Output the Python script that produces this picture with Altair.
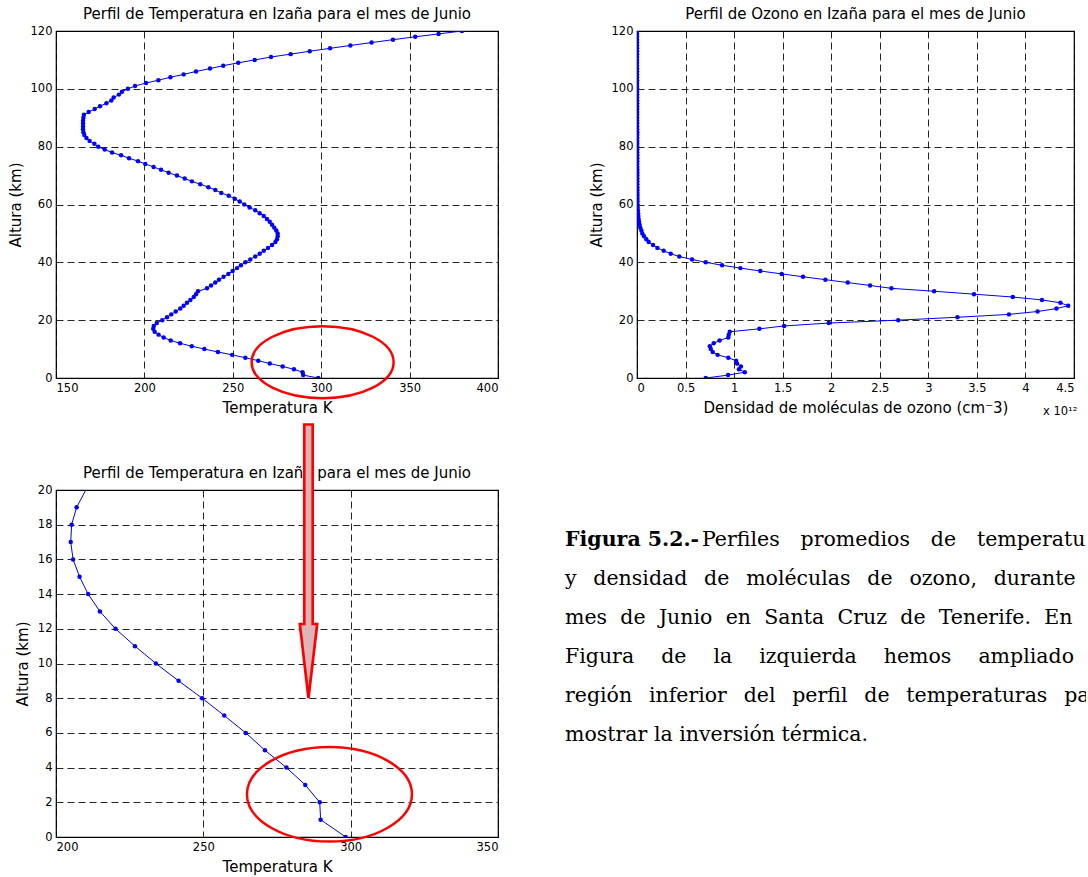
import altair as alt
import pandas as pd

# ---------------- data ----------------
altitude_km = list(range(0, 121))

temperature_k = [
    298.3, 289.8, 289.5, 284.6, 278.2, 270.9, 264.4, 257.1, 249.6, 241.6,
    233.9, 226.8, 220.2, 214.9, 210.9, 208.0, 205.8, 205.0, 205.3, 207.0,
    210.1, 212.8, 215.2, 217.7, 220.3, 222.2, 224.1, 226.0, 227.9, 229.2,
    230.3, 235.4, 237.7, 240.1, 242.2, 244.8, 247.5, 249.9, 252.4, 254.6,
    257.1, 259.9, 262.7, 265.2, 267.5, 269.9, 272.2, 274.1, 275.0, 275.4,
    275.4, 274.6, 273.5, 272.2, 270.9, 269.3, 267.5, 265.2, 262.7, 259.5,
    256.5, 253.9, 251.1, 247.7, 243.5, 240.1, 236.2, 231.6, 226.9, 222.8,
    218.4, 213.7, 209.4, 205.2, 200.5, 196.4, 191.3, 186.8, 181.7, 177.5,
    173.9, 171.7, 169.0, 167.2, 166.0, 165.5, 165.3, 165.3, 165.3, 165.3,
    165.5, 165.8, 168.5, 171.9, 174.9, 178.5, 181.3, 182.6, 185.6, 187.3,
    190.7, 194.7, 200.9, 207.9, 214.7, 222.2, 229.2, 237.1, 244.6, 253.1,
    262.4, 271.6, 282.7, 293.5, 305.0, 316.5, 328.5, 340.6, 353.2, 366.4,
    379.6,
]

ozone_e12 = [
    0.708, 0.938, 1.110, 1.050, 1.070, 1.030, 1.020, 0.940, 0.830, 0.780,
    0.760, 0.750, 0.790, 0.850, 0.940, 0.945, 0.955, 1.260, 1.515, 1.975,
    2.690, 3.300, 3.830, 4.125, 4.320, 4.440, 4.360, 4.170, 3.870, 3.470,
    3.060, 2.620, 2.400, 2.170, 1.940, 1.710, 1.490, 1.270, 1.065, 0.876,
    0.708, 0.567, 0.436, 0.347, 0.275, 0.210, 0.165, 0.120, 0.096, 0.072,
    0.055, 0.045, 0.034, 0.027, 0.021, 0.017, 0.014, 0.011, 0.009, 0.007,
    0.006, 0.005, 0.005, 0.005, 0.005, 0.005, 0.004, 0.004, 0.004, 0.004,
    0.004, 0.004, 0.004, 0.003, 0.003, 0.003, 0.003, 0.003, 0.003, 0.003,
    0.003, 0.003, 0.003, 0.003, 0.003, 0.003, 0.002, 0.002, 0.002, 0.002,
    0.002, 0.002, 0.002, 0.002, 0.002, 0.002, 0.002, 0.002, 0.002, 0.002,
    0.002, 0.001, 0.001, 0.001, 0.001, 0.001, 0.001, 0.001, 0.001, 0.001,
    0.001, 0.001, 0.001, 0.001, 0.001, 0.001, 0.001, 0.001, 0.001, 0.001,
    0.001,
]

temp_x_ticks = [150, 200, 250, 300, 350, 400]
alt_ticks_full = [0, 20, 40, 60, 80, 100, 120]
ozone_x_ticks = [0, 0.5, 1, 1.5, 2, 2.5, 3, 3.5, 4, 4.5]
zoom_x_ticks = [200, 250, 300, 350]
zoom_y_ticks = [0, 2, 4, 6, 8, 10, 12, 14, 16, 18, 20]

title_temp = "Perfil de Temperatura en Izaña para el mes de Junio"
title_ozone = "Perfil de Ozono en Izaña para el mes de Junio"
xlabel_temp = "Temperatura K"
xlabel_ozone = "Densidad de moléculas de ozono (cm⁻3)"
ylabel = "Altura (km)"
ozone_multiplier = "x 10¹²"

caption_bold = "Figura 5.2.-"
caption_first_rest = "Perfiles promedios de temperatura"
caption_lines = [
    "y densidad de moléculas de ozono, durante el",
    "mes de Junio en Santa Cruz de Tenerife. En la",
    "Figura de la izquierda hemos ampliado la",
    "región inferior del perfil de temperaturas para",
    "mostrar la inversión térmica.",
]
# extra (justification) space appended to each word gap, per line
first_gap_extra = "\u2002\u2009"
line_gap_extra = ["\u2002", "\u2004", "\u2003", "\u2002", ""]

# annotation centres (data units)
highlight_full = {"T": [300.8], "alt": [5.46]}
highlight_zoom = {"T": [292.8], "alt": [2.46]}

# ---------------- style ----------------
SANS = "DejaVu Sans"
SERIF = "DejaVu Serif"
BLUE = "#0000ff"
RED = "#ff0000"
K = 0.5523


def ellipse_path(b):
    return (f"M 1 0 C 1 {K*b:.4f} {K:.4f} {b:.4f} 0 {b:.4f} "
            f"C {-K:.4f} {b:.4f} -1 {K*b:.4f} -1 0 "
            f"C -1 {-K*b:.4f} {-K:.4f} {-b:.4f} 0 {-b:.4f} "
            f"C {K:.4f} {-b:.4f} 1 {-K*b:.4f} 1 0 Z")


def justify(line, extra):
    return (" " + extra).join(line.split())


ARROW = ("M -0.0307 -1 L 0.0307 -1 L 0.0307 0.459 L 0.0636 0.459 "
         "L 0 1 L -0.0636 0.459 L -0.0307 0.459 Z")

df_t = pd.DataFrame({"alt": altitude_km, "T": temperature_k})
df_o = pd.DataFrame({"alt": altitude_km, "O3": ozone_e12})

# ---------- panel A: full temperature profile ----------
xA = alt.X("T:Q", scale=alt.Scale(domain=[150, 400], nice=False),
           axis=alt.Axis(values=temp_x_ticks, title=xlabel_temp))
yA = alt.Y("alt:Q", scale=alt.Scale(domain=[0, 120], nice=False),
           axis=alt.Axis(values=alt_ticks_full, title=ylabel))

lineA = alt.Chart(df_t).mark_line(color=BLUE, strokeWidth=1, clip=True).encode(
    x=xA, y=yA, order=alt.Order("alt:Q"))
ptsA = alt.Chart(df_t).mark_circle(color=BLUE, size=20, opacity=1, clip=True).encode(x=xA, y=yA)
ellA = alt.Chart(pd.DataFrame(highlight_full)).mark_point(
    shape=ellipse_path(36 / 71), size=142 ** 2, filled=False, stroke=RED,
    strokeWidth=2.5, opacity=1, clip=False).encode(x=xA, y=yA)
A = alt.layer(lineA, ptsA, ellA).properties(width=442, height=347, title=title_temp)

# ---------- panel B: ozone profile ----------
xB = alt.X("O3:Q", scale=alt.Scale(domain=[0, 4.5], nice=False),
           axis=alt.Axis(values=ozone_x_ticks, format="~g", title=xlabel_ozone))
yB = alt.Y("alt:Q", scale=alt.Scale(domain=[0, 120], nice=False),
           axis=alt.Axis(values=alt_ticks_full, title=ylabel))
lineB = alt.Chart(df_o).mark_line(color=BLUE, strokeWidth=1, clip=True).encode(
    x=xB, y=yB, order=alt.Order("alt:Q"))
ptsB = alt.Chart(df_o).mark_circle(color=BLUE, size=20, opacity=1, clip=True).encode(x=xB, y=yB)
multB = alt.Chart(pd.DataFrame({"t": [ozone_multiplier]})).mark_text(
    align="left", baseline="alphabetic", font=SANS, fontSize=11.5, color="black",
    clip=False).encode(text="t:N", x=alt.value(406), y=alt.value(384))
B = alt.layer(lineB, ptsB, multB).properties(width=437, height=347, title=title_ozone)

# ---------- panel C: zoom of the lower troposphere ----------
xC = alt.X("T:Q", scale=alt.Scale(domain=[200, 350], nice=False),
           axis=alt.Axis(values=zoom_x_ticks, title=xlabel_temp))
yC = alt.Y("alt:Q", scale=alt.Scale(domain=[0, 20], nice=False),
           axis=alt.Axis(values=zoom_y_ticks, title=ylabel))
lineC = alt.Chart(df_t).mark_line(color=BLUE, strokeWidth=1, clip=True).encode(
    x=xC, y=yC, order=alt.Order("alt:Q"))
ptsC = alt.Chart(df_t).transform_filter(alt.datum.alt < 20).mark_circle(
    color=BLUE, size=20, opacity=1, clip=True).encode(x=xC, y=yC)
ellC = alt.Chart(pd.DataFrame(highlight_zoom)).mark_point(
    shape=ellipse_path(47.3 / 82.5), size=165 ** 2, filled=False, stroke=RED,
    strokeWidth=2.5, opacity=1, clip=False).encode(x=xC, y=yC)
C = alt.layer(lineC, ptsC, ellC).properties(width=442, height=347, title=title_temp)

# ---------- panel D: caption + arrow ----------
yD = alt.Y("line:Q", scale=alt.Scale(domain=[0, 5], range=[56, 251]), axis=None)
bold_txt = alt.Chart(pd.DataFrame({"line": [0], "t": [caption_bold]})).mark_text(
    align="left", baseline="alphabetic", font=SERIF, fontSize=20.5, fontWeight="bold",
    color="black", clip=True).encode(text="t:N", y=yD, x=alt.value(5))
first_txt = alt.Chart(pd.DataFrame({
    "line": [0], "t": [justify(caption_first_rest, first_gap_extra)]})).mark_text(
    align="left", baseline="alphabetic", font=SERIF, fontSize=20.5,
    color="black", clip=True).encode(text="t:N", y=yD, x=alt.value(142))
rest_txt = alt.Chart(pd.DataFrame({
    "line": [1, 2, 3, 4, 5],
    "t": [justify(s, e) for s, e in zip(caption_lines, line_gap_extra)]})).mark_text(
    align="left", baseline="alphabetic", font=SERIF, fontSize=20.5,
    color="black", clip=True).encode(text="t:N", y=yD, x=alt.value(5))
arrow = alt.Chart(pd.DataFrame({"a": [1]})).mark_point(
    shape=ARROW, size=273.5 ** 2, filled=True, fill="#ddb5b9", fillOpacity=1,
    stroke=RED, strokeWidth=2.7, strokeOpacity=1, opacity=1, clip=False).encode(
    x=alt.value(-251.5), y=alt.value(71.25))
D = alt.layer(bold_txt, first_txt, rest_txt, arrow).properties(
    width=526, height=347, view=alt.ViewBackground(stroke="transparent", strokeWidth=0))

top = alt.hconcat(A, B, spacing=139, bounds="flush")
bottom = alt.hconcat(C, D, spacing=62, bounds="flush")

chart = alt.vconcat(top, bottom, spacing=0).properties(
    padding={"left": 7, "top": 6, "right": 0, "bottom": 0}, background="white"
).configure_view(
    stroke="black", strokeWidth=1.2
).configure_axis(
    labelFont=SANS, labelFontSize=11.5, labelColor="black",
    titleFont=SANS, titleFontSize=15, titleFontWeight="normal", titleColor="black",
    grid=True, gridColor="black", gridDash=[7, 4], gridOpacity=0.85, gridWidth=1,
    domain=False, ticks=False, tickSize=0, labelPadding=4, titlePadding=7,
).configure_title(
    font=SANS, fontSize=15, fontWeight="normal", color="black",
    anchor="middle", baseline="alphabetic", offset=3, frame="group",
)

chart.save("out.html", embed_options={"renderer": "svg", "actions": False})
